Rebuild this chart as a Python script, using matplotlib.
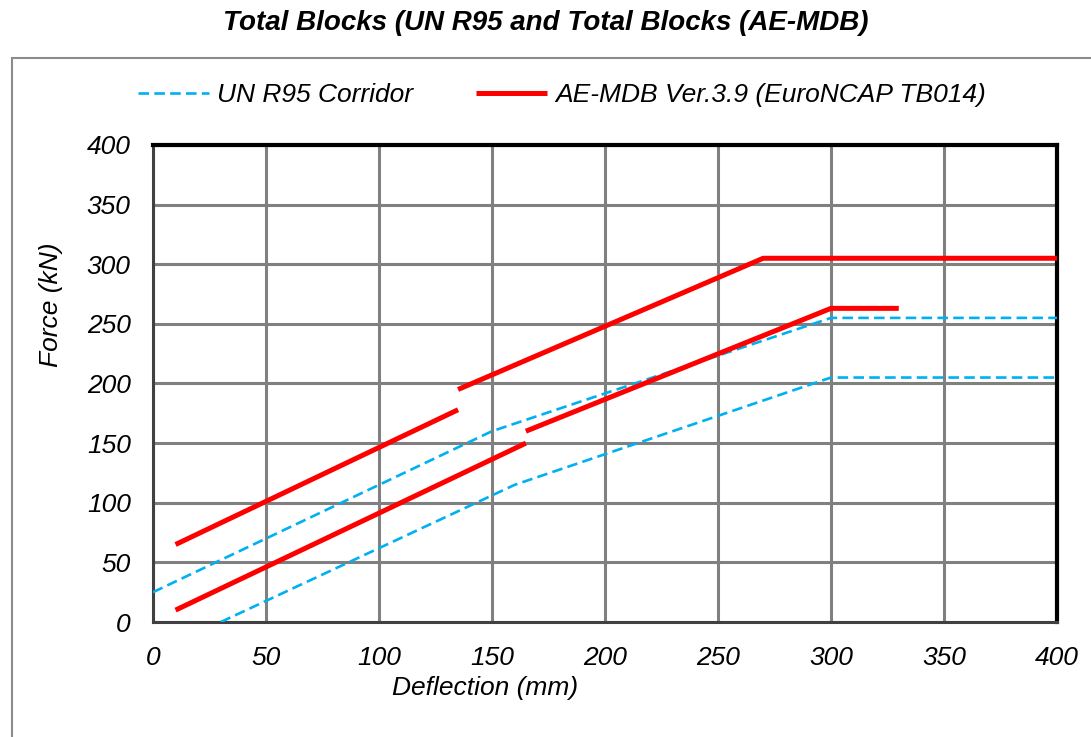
import matplotlib
matplotlib.use('Agg')
import matplotlib.pyplot as plt
from matplotlib.patches import Rectangle

plt.rcParams['font.family'] = ['Liberation Sans Narrow', 'Liberation Sans', 'DejaVu Sans']

# UN R95 corridor (upper and lower bounds)
r95_upper_x = [0, 150, 300, 400]
r95_upper_y = [25, 160, 255, 255]
r95_lower_x = [30, 160, 300, 400]
r95_lower_y = [0, 115, 205, 205]

# AE-MDB Ver.3.9 corridor segments
mdb_upper1_x = [10, 135]
mdb_upper1_y = [65, 178]
mdb_upper2_x = [135, 270, 400]
mdb_upper2_y = [195, 305, 305]
mdb_lower1_x = [10, 165]
mdb_lower1_y = [10, 150]
mdb_lower2_x = [165, 300, 330]
mdb_lower2_y = [160, 263, 263]

xticks = [0, 50, 100, 150, 200, 250, 300, 350, 400]
yticks = [0, 50, 100, 150, 200, 250, 300, 350, 400]

blue = "#00B0F0"
red = "#FF0000"

fig = plt.figure(figsize=(10.91, 7.37), dpi=100)
ax = fig.add_axes([0.1402, 0.156, 0.8286, 0.6473])

# outer chart box
fig.patches.append(Rectangle((12 / 1091, -0.01), 1.1, 1 - 58 / 737 + 0.01,
                             transform=fig.transFigure, fill=False,
                             ec="#8c8c8c", lw=1.5, zorder=0))

ax.plot(r95_upper_x, r95_upper_y, c=blue, lw=1.9, dashes=(4, 2),
        label="UN R95 Corridor", zorder=3)
ax.plot(r95_lower_x, r95_lower_y, c=blue, lw=1.9, dashes=(4, 2), zorder=3)
ax.plot(mdb_upper1_x, mdb_upper1_y, c=red, lw=3.6,
        label="AE-MDB Ver.3.9 (EuroNCAP TB014)", zorder=4, solid_capstyle="butt")
ax.plot(mdb_upper2_x, mdb_upper2_y, c=red, lw=3.6, zorder=4, solid_capstyle="butt")
ax.plot(mdb_lower1_x, mdb_lower1_y, c=red, lw=3.6, zorder=4, solid_capstyle="butt")
ax.plot(mdb_lower2_x, mdb_lower2_y, c=red, lw=3.6, zorder=4, solid_capstyle="butt")

ax.set_xlim(0, 400)
ax.set_ylim(0, 400)
ax.set_xticks(xticks)
ax.set_yticks(yticks)
ax.set_xticklabels([str(v) for v in xticks], fontsize=19, style="italic")
ax.set_yticklabels([str(v) for v in yticks], fontsize=19, style="italic")
ax.tick_params(axis="x", length=0, pad=17)
ax.tick_params(axis="y", length=0, pad=16)
ax.grid(True, color="#808080", lw=2.2, zorder=1)
ax.set_axisbelow(True)
for s in ["top", "right"]:
    ax.spines[s].set_color("black")
    ax.spines[s].set_linewidth(3)
for s in ["left", "bottom"]:
    ax.spines[s].set_color("#404040")
    ax.spines[s].set_linewidth(2.2)

ax.set_xlabel("Deflection (mm)", fontsize=19, style="italic")
ax.xaxis.set_label_coords(0.367, -0.113)
ax.set_ylabel("Force (kN)", fontsize=19, style="italic")
ax.yaxis.set_label_coords(-0.0996, 0.665)

fig.suptitle("Total Blocks (UN R95 and Total Blocks (AE-MDB)", y=0.987,
             fontsize=20, fontweight="bold", style="italic")
fig.legend(loc="center", bbox_to_anchor=(0.515, 0.871), ncol=2, frameon=False,
           prop={"style": "italic", "size": 19},
           handlelength=2.7, columnspacing=2.4, handletextpad=0.3)

plt.savefig("out.png", dpi=100)
